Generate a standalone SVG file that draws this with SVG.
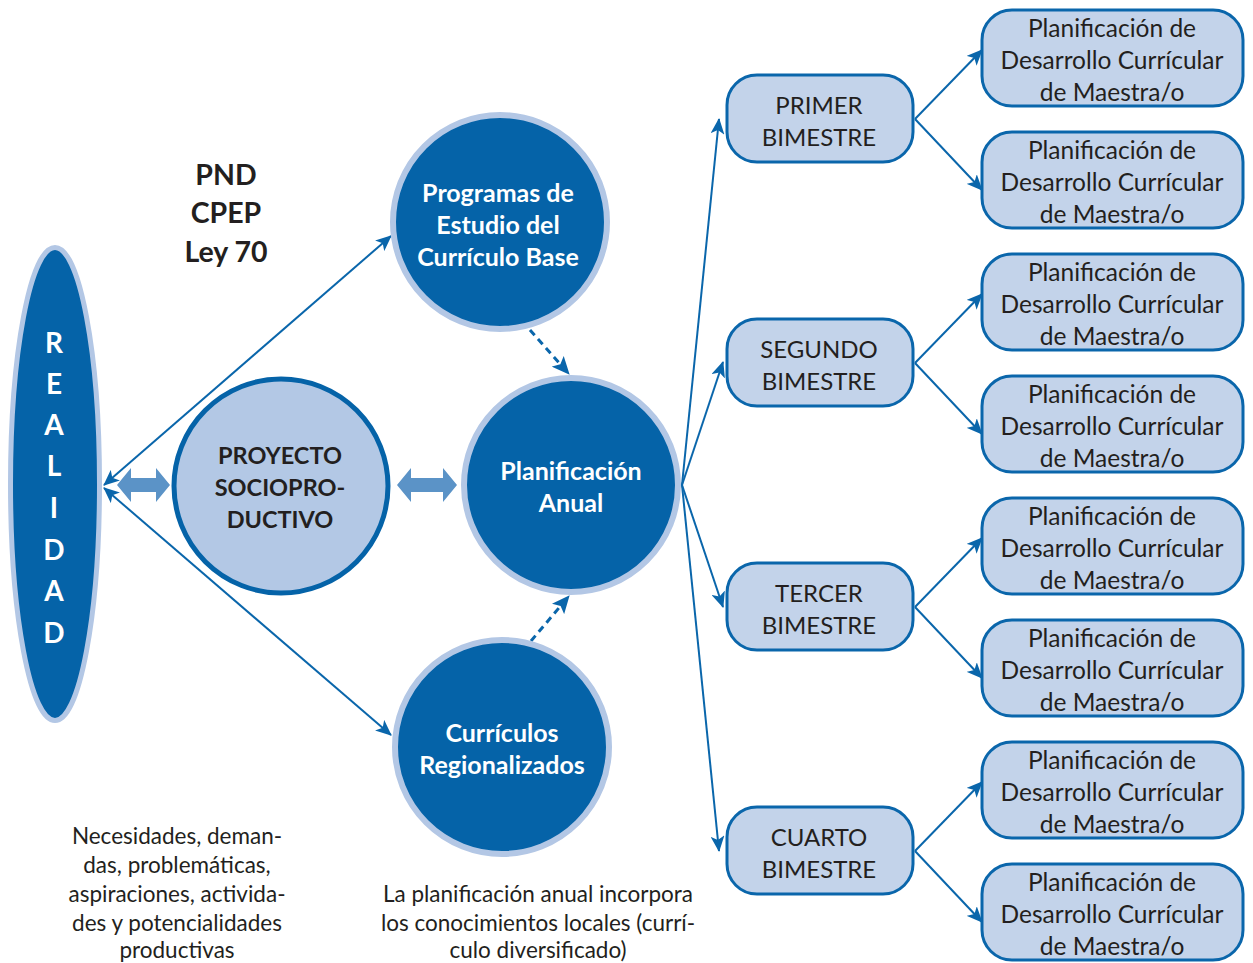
<svg xmlns="http://www.w3.org/2000/svg" width="1253" height="963" viewBox="0 0 1253 963">
<defs>
<style>
.t{font-family:Lato,"Liberation Sans",Arial,sans-serif;text-anchor:middle}
.wb{fill:#ffffff;font-weight:bold;font-size:25px}
.db{fill:#231f20;font-weight:bold}
.reg{fill:#231f20;font-size:24.5px}
.bim{fill:#231f20;font-size:24px}
.dk{fill:#0563a8;stroke:#b3c7e5;stroke-width:6}
.lt{fill:#b3c8e5;stroke:#0563a8;stroke-width:5}
.box{fill:#c3d3ea;stroke:#0a66ab;stroke-width:3}
.ln{stroke:#0a66ab;stroke-width:2;fill:none}
.dash{stroke:#0a66ab;stroke-width:3;stroke-dasharray:7 5;fill:none}
.dbl{fill:#5b93c7}
</style>
<marker id="ah" markerUnits="userSpaceOnUse" markerWidth="16" markerHeight="14" refX="15" refY="7" orient="auto-start-reverse" viewBox="0 0 16 14">
<path d="M0,0 L16,7 L0,14 L4,7 Z" fill="#0a66ab"/>
</marker>
<marker id="ahd" markerUnits="userSpaceOnUse" markerWidth="18" markerHeight="16" refX="17" refY="8" orient="auto" viewBox="0 0 18 16">
<path d="M0,0 L18,8 L0,16 L4,8 Z" fill="#0a66ab"/>
</marker>
</defs>

<g id="connectors">
<line class="ln" x1="104" y1="485" x2="391" y2="236" marker-start="url(#ah)" marker-end="url(#ah)"/>
<line class="ln" x1="104" y1="488" x2="391" y2="735" marker-start="url(#ah)" marker-end="url(#ah)"/>
<polygon class="dbl" points="117,485 131,468 131,478 156,478 156,468 170,485 156,502 156,492 131,492 131,502"/>
<polygon class="dbl" points="397,485 411,468 411,478 443,478 443,468 457,485 443,502 443,492 411,492 411,502"/>
<line class="dash" x1="530" y1="330" x2="569" y2="374" marker-end="url(#ahd)"/>
<line class="dash" x1="531" y1="641" x2="569" y2="596" marker-end="url(#ahd)"/>
<line class="ln" x1="682" y1="485" x2="719" y2="119" marker-end="url(#ah)"/>
<line class="ln" x1="682" y1="485" x2="723" y2="362" marker-end="url(#ah)"/>
<line class="ln" x1="682" y1="485" x2="723" y2="607" marker-end="url(#ah)"/>
<line class="ln" x1="682" y1="485" x2="719" y2="851" marker-end="url(#ah)"/>
<line class="ln" x1="915" y1="119" x2="982" y2="50" marker-end="url(#ah)"/>
<line class="ln" x1="915" y1="119" x2="982" y2="190" marker-end="url(#ah)"/>
<line class="ln" x1="915" y1="363" x2="982" y2="294" marker-end="url(#ah)"/>
<line class="ln" x1="915" y1="363" x2="982" y2="434" marker-end="url(#ah)"/>
<line class="ln" x1="915" y1="607" x2="982" y2="538" marker-end="url(#ah)"/>
<line class="ln" x1="915" y1="607" x2="982" y2="678" marker-end="url(#ah)"/>
<line class="ln" x1="915" y1="851" x2="982" y2="782" marker-end="url(#ah)"/>
<line class="ln" x1="915" y1="851" x2="982" y2="922" marker-end="url(#ah)"/>
</g>

<g id="realidad">
<ellipse cx="55" cy="484" rx="44.5" ry="236.5" fill="#0563a8" stroke="#b3c7e5" stroke-width="5"/>
<g class="t" fill="#ffffff" font-weight="bold" font-size="28">
<text x="54" y="353">R</text>
<text x="54" y="394">E</text>
<text x="54" y="435">A</text>
<text x="54" y="476">L</text>
<text x="54" y="518">I</text>
<text x="54" y="560">D</text>
<text x="54" y="601">A</text>
<text x="54" y="643">D</text>
</g>
</g>

<g id="pnd">
<text class="t db" font-size="28.5" x="226" y="185">PND</text>
<text class="t db" font-size="28.5" x="226" y="223">CPEP</text>
<text class="t db" font-size="28.5" x="226" y="262">Ley 70</text>
</g>

<g id="programas">
<circle class="dk" cx="500" cy="222" r="107"/>
<text class="t wb" x="498" y="202">Programas de</text>
<text class="t wb" x="498" y="234">Estudio del</text>
<text class="t wb" x="498" y="266">Currículo Base</text>
</g>

<g id="proyecto">
<circle class="lt" cx="281" cy="486" r="107"/>
<text class="t db" font-size="23.5" x="280" y="464">PROYECTO</text>
<text class="t db" font-size="23.5" x="280" y="496">SOCIOPRO-</text>
<text class="t db" font-size="23.5" x="280" y="528">DUCTIVO</text>
</g>

<g id="planificacion-anual">
<circle class="dk" cx="571" cy="485" r="107"/>
<text class="t wb" x="571" y="480">Planificación</text>
<text class="t wb" x="571" y="512">Anual</text>
</g>

<g id="curriculos">
<circle class="dk" cx="502" cy="747" r="107"/>
<text class="t wb" x="502" y="742">Currículos</text>
<text class="t wb" x="502" y="774">Regionalizados</text>
</g>

<g id="primer">
<rect class="box" x="727" y="75" width="186" height="87" rx="30"/>
<text class="t bim" x="819" y="114">PRIMER</text>
<text class="t bim" x="819" y="146">BIMESTRE</text>
</g>
<g id="segundo">
<rect class="box" x="727" y="319" width="186" height="87" rx="30"/>
<text class="t bim" x="819" y="358">SEGUNDO</text>
<text class="t bim" x="819" y="390">BIMESTRE</text>
</g>
<g id="tercer">
<rect class="box" x="727" y="563" width="186" height="87" rx="30"/>
<text class="t bim" x="819" y="602">TERCER</text>
<text class="t bim" x="819" y="634">BIMESTRE</text>
</g>
<g id="cuarto">
<rect class="box" x="727" y="807" width="186" height="87" rx="30"/>
<text class="t bim" x="819" y="846">CUARTO</text>
<text class="t bim" x="819" y="878">BIMESTRE</text>
</g>

<g id="plan1">
<rect class="box" x="982" y="10" width="261" height="96" rx="30"/>
<text class="t reg" x="1112" y="37">Planificación de</text>
<text class="t reg" x="1112" y="69">Desarrollo Currícular</text>
<text class="t reg" x="1112" y="101">de Maestra/o</text>
</g>
<g id="plan2">
<rect class="box" x="982" y="132" width="261" height="96" rx="30"/>
<text class="t reg" x="1112" y="159">Planificación de</text>
<text class="t reg" x="1112" y="191">Desarrollo Currícular</text>
<text class="t reg" x="1112" y="223">de Maestra/o</text>
</g>
<g id="plan3">
<rect class="box" x="982" y="254" width="261" height="96" rx="30"/>
<text class="t reg" x="1112" y="281">Planificación de</text>
<text class="t reg" x="1112" y="313">Desarrollo Currícular</text>
<text class="t reg" x="1112" y="345">de Maestra/o</text>
</g>
<g id="plan4">
<rect class="box" x="982" y="376" width="261" height="96" rx="30"/>
<text class="t reg" x="1112" y="403">Planificación de</text>
<text class="t reg" x="1112" y="435">Desarrollo Currícular</text>
<text class="t reg" x="1112" y="467">de Maestra/o</text>
</g>
<g id="plan5">
<rect class="box" x="982" y="498" width="261" height="96" rx="30"/>
<text class="t reg" x="1112" y="525">Planificación de</text>
<text class="t reg" x="1112" y="557">Desarrollo Currícular</text>
<text class="t reg" x="1112" y="589">de Maestra/o</text>
</g>
<g id="plan6">
<rect class="box" x="982" y="620" width="261" height="96" rx="30"/>
<text class="t reg" x="1112" y="647">Planificación de</text>
<text class="t reg" x="1112" y="679">Desarrollo Currícular</text>
<text class="t reg" x="1112" y="711">de Maestra/o</text>
</g>
<g id="plan7">
<rect class="box" x="982" y="742" width="261" height="96" rx="30"/>
<text class="t reg" x="1112" y="769">Planificación de</text>
<text class="t reg" x="1112" y="801">Desarrollo Currícular</text>
<text class="t reg" x="1112" y="833">de Maestra/o</text>
</g>
<g id="plan8">
<rect class="box" x="982" y="864" width="261" height="96" rx="30"/>
<text class="t reg" x="1112" y="891">Planificación de</text>
<text class="t reg" x="1112" y="923">Desarrollo Currícular</text>
<text class="t reg" x="1112" y="955">de Maestra/o</text>
</g>

<g id="nota-necesidades" class="t" fill="#231f20" font-size="22.5">
<text x="177" y="844">Necesidades, deman-</text>
<text x="177" y="873">das, problemáticas,</text>
<text x="177" y="902">aspiraciones, activida-</text>
<text x="177" y="931">des y potencialidades</text>
<text x="177" y="958">productivas</text>
</g>

<g id="nota-planificacion" class="t" fill="#231f20" font-size="22.5">
<text x="538" y="902">La planificación anual incorpora</text>
<text x="538" y="931">los conocimientos locales (currí-</text>
<text x="538" y="958">culo diversificado)</text>
</g>
</svg>
